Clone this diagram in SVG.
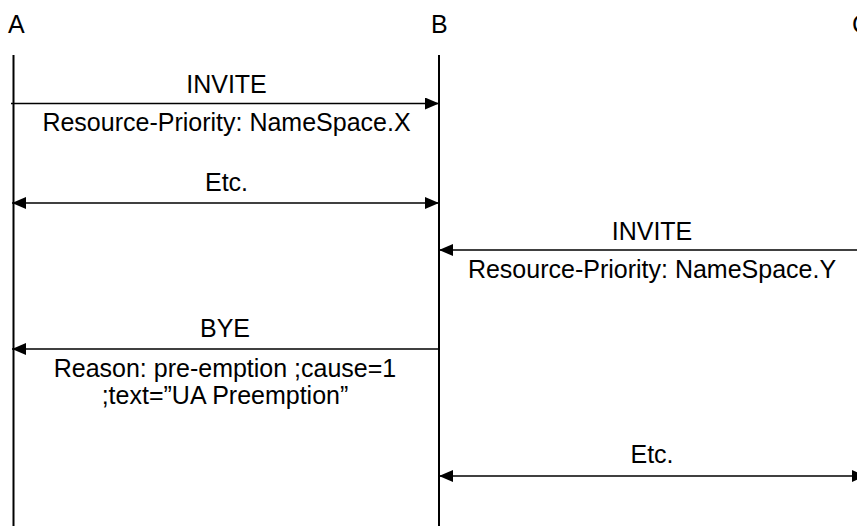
<svg xmlns="http://www.w3.org/2000/svg" width="857" height="526" viewBox="0 0 857 526">
<style>
text{font-family:"Liberation Sans",Arial,sans-serif;font-size:25px;fill:#000}
.c{text-anchor:middle}
.life{stroke:#000;stroke-width:2;fill:none}
.msg{stroke:#000;stroke-width:1.6;fill:none}
</style>
<defs>
<marker id="ah" viewBox="0 0 14 12" refX="14" refY="6" markerWidth="14" markerHeight="12" markerUnits="userSpaceOnUse" orient="auto-start-reverse">
<path d="M0,0 L14,6 L0,12 Z" fill="#000"/>
</marker>
</defs>
<g id="A">
<text x="8" y="33">A</text>
<line class="life" x1="13.5" y1="55" x2="13.5" y2="526"/>
</g>
<g id="B">
<text x="431" y="33">B</text>
<line class="life" x1="439" y1="55" x2="439" y2="526"/>
</g>
<g id="C">
<text x="852" y="33">C</text>
<line class="life" x1="864" y1="55" x2="864" y2="526"/>
</g>
<g id="connectors">
<line class="msg" x1="11" y1="103.5" x2="439" y2="103.5" marker-end="url(#ah)"/>
<line class="msg" x1="12" y1="203" x2="439" y2="203" marker-start="url(#ah)" marker-end="url(#ah)"/>
<line class="msg" x1="866" y1="250" x2="439" y2="250" marker-end="url(#ah)"/>
<line class="msg" x1="439" y1="349" x2="12" y2="349" marker-end="url(#ah)"/>
<line class="msg" x1="439" y1="476" x2="866" y2="476" marker-start="url(#ah)" marker-end="url(#ah)"/>
</g>
<g id="labels">
<text class="c" x="226.5" y="93">INVITE</text>
<text class="c" x="226.5" y="131">Resource-Priority: NameSpace.X</text>
<text class="c" x="226.5" y="190.5">Etc.</text>
<text class="c" x="652" y="240">INVITE</text>
<text class="c" x="652" y="278">Resource-Priority: NameSpace.Y</text>
<text class="c" x="225" y="337">BYE</text>
<text class="c" x="225" y="377">Reason: pre-emption ;cause=1</text>
<text class="c" x="225" y="403.5">;text=”UA Preemption”</text>
<text class="c" x="652" y="463">Etc.</text>
</g>
</svg>
